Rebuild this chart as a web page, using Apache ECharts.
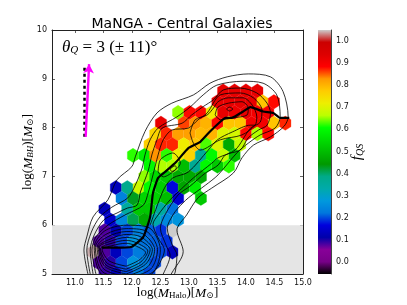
<!DOCTYPE html>
<html><head><meta charset="utf-8"><style>html,body{margin:0;padding:0;background:#fff}#c{width:407px;height:305px}</style>
<script src="https://cdn.jsdelivr.net/npm/echarts@6/dist/echarts.min.js"></script></head><body><div id="c"></div>
<script>
const xTicks=[11,11.5,12,12.5,13,13.5,14,14.5,15];
const yTicks=[5,6,7,8,9,10];
const cbTicks=[0,0.1,0.2,0.3,0.4,0.5,0.6,0.7,0.8,0.9,1];
const hexRows=[
[8.75,[13.60,.92,13.80,.92,14.00,.92,14.20,.92]],
[8.53,[13.50,.92,13.70,.92,13.90,.92,14.10,.92,14.29,.78,14.49,.88]],
[8.31,[12.81,.65,13.01,.88,13.21,.88,13.40,.72,13.60,.92,13.80,.91,14.00,.92,14.20,.90,14.39,.90]],
[8.09,[12.51,.92,12.91,.86,13.11,.83,13.30,.80,13.50,.88,13.70,.78,13.90,.78,14.10,.90,14.29,.90,14.49,.78,14.69,.87]],
[7.87,[12.41,.76,12.61,.87,12.81,.82,13.01,.82,13.21,.79,13.40,.80,13.60,.70,13.80,.69,14.00,.88,14.20,.66,14.39,.88]],
[7.65,[12.31,.77,12.51,.87,12.71,.87,12.91,.72,13.11,.78,13.30,.63,13.50,.70,13.70,.47,13.90,.67]],
[7.43,[12.02,.62,12.22,.58,12.41,.83,12.61,.62,12.81,.72,13.01,.76,13.21,.36,13.40,.60,13.60,.67,13.80,.50]],
[7.21,[12.31,.60,12.51,.66,12.71,.66,12.91,.50,13.11,.37,13.30,.60,13.50,.52,13.70,.62]],
[6.99,[12.22,.65,12.41,.55,12.61,.52,12.81,.47,13.01,.47,13.21,.47]],
[6.77,[11.72,.13,11.92,.38,12.12,.68,12.31,.60,12.51,.53,12.71,.17,12.91,.46,13.11,.58]],
[6.55,[11.82,.24,12.02,.43,12.22,.54,12.41,.53,12.61,.50,12.81,.15,13.21,.52]],
[6.33,[11.52,.13,11.92,.35,12.12,.52,12.31,.52,12.51,.35,12.71,.22]],
[6.11,[11.62,.15,11.82,.25,12.02,.41,12.22,.47,12.41,.33,12.61,.25,12.81,.27]],
[5.89,[11.52,.08,11.72,.12,11.92,.20,12.12,.24,12.31,.21,12.51,.19,12.71,1.2]],
[5.67,[11.42,.08,11.62,.095,11.82,.20,12.02,.27,12.22,.22,12.41,.21,12.61,.19]],
[5.45,[11.32,1.04,11.52,.08,11.72,.13,11.92,.20,12.12,.23,12.31,.22,12.51,.20,12.71,.13]],
[5.23,[11.42,.08,11.62,.095,11.82,.20,12.02,.27,12.22,.23,12.41,.20]],
[5.01,[11.52,.09,11.72,.13,11.92,.20,12.12,.23,12.31,.20]]
];
const contour1=[[11.23,5.0],[11.16,5.49],[11.21,5.76],[11.32,6.17],[11.58,6.52],[11.74,6.93],[12.0,7.2],[12.06,7.40],[12.23,7.92],[12.44,8.30],[12.70,8.50],[13.08,8.67],[13.37,8.91],[13.67,9.04],[14.04,9.10],[14.43,9.04],[14.65,8.74],[14.74,8.22],[14.67,8.03],[14.43,7.81],[14.13,7.64],[13.93,7.38],[13.78,7.07],[13.40,6.76],[13.16,6.56],[12.96,6.21],[12.79,5.90],[12.90,5.46],[12.70,5.02],[12.66,4.95]];
const contour2=[[11.27,5.0],[11.21,5.49],[11.29,5.86],[11.44,6.17],[11.65,6.37],[11.93,6.56],[12.06,6.82],[12.18,7.17],[12.23,7.44],[12.32,7.75],[12.46,7.99],[12.79,8.22],[13.02,8.42],[13.25,8.67],[13.49,8.87],[13.95,8.95],[14.30,8.91],[14.54,8.67],[14.60,8.22],[14.51,7.99],[14.25,7.85],[14.04,7.68],[13.84,7.48],[13.51,7.03],[13.29,6.82],[12.99,6.56],[12.81,6.35],[12.72,6.21],[12.62,5.94],[12.71,5.59],[12.79,5.39],[12.76,5.04],[12.72,4.95]];
const contour3=[[11.32,5.0],[11.27,5.49],[11.34,5.80],[11.51,6.11],[11.74,6.25],[11.92,6.35],[12.09,6.41],[12.15,6.68],[12.29,7.13],[12.35,7.44],[12.44,7.75],[12.53,7.99],[12.88,8.09],[13.05,8.26],[13.25,8.43],[13.43,8.57],[13.60,8.77],[13.90,8.81],[14.19,8.71],[14.37,8.50],[14.43,8.30],[14.37,8.05],[14.22,7.95],[14.04,7.79],[13.90,7.54],[13.64,7.44],[13.51,7.23],[13.29,7.07],[13.02,6.80],[12.81,6.62],[12.58,6.21],[12.50,5.94],[12.60,5.59],[12.67,5.39],[12.55,5.0],[12.5,4.95]];
const contour4=[[11.37,5.0],[11.30,5.49],[11.37,5.76],[11.58,6.0],[11.88,6.21],[12.20,6.41],[12.29,6.68],[12.37,7.03],[12.46,7.44],[12.55,7.75],[12.70,7.95],[12.99,7.99],[13.16,8.16],[13.32,8.30],[13.55,8.67],[13.90,8.71],[14.13,8.61],[14.28,8.36],[14.25,8.11],[14.08,7.99],[13.81,7.54],[13.51,7.38],[13.40,7.27],[13.08,6.97],[12.81,6.68],[12.67,6.52],[12.46,6.21],[12.37,6.02],[12.46,5.74],[12.57,5.49],[12.46,5.16],[12.32,4.96]];
const contour5=[[13.02,7.89],[13.11,8.16],[13.32,8.26],[13.43,8.40],[13.51,8.53],[13.69,8.61],[13.95,8.61],[14.11,8.46],[14.19,8.22],[14.16,8.05],[13.93,7.85],[13.55,7.75],[13.20,7.54],[13.08,7.68],[13.02,7.89]];
const contour6=[[13.46,8.26],[13.51,8.42],[13.69,8.50],[13.93,8.53],[14.04,8.40],[14.02,8.26],[13.78,8.20],[13.55,8.16],[13.46,8.26]];
const contour7=[[13.66,8.38],[13.71,8.42],[13.77,8.38],[13.71,8.34],[13.66,8.38]];
const contour8=[[12.46,7.09],[12.50,7.34],[12.72,7.48],[12.85,7.27],[12.76,7.13],[12.55,6.99],[12.46,7.09]];
const contour9=[[12.32,6.0],[12.46,6.45],[12.58,6.78],[12.72,6.97],[12.99,7.09],[13.34,7.54],[13.50,7.75],[13.76,7.91],[14.08,8.05],[14.16,8.05]];
const contour10=[[12.67,7.15],[12.76,7.22],[12.78,7.17],[12.70,7.10],[12.67,7.15]];
const loop1=[[11.9,4.85],[11.46,5.0],[11.34,5.55],[11.52,5.88],[11.9,6.0],[12.3,5.95],[12.5,5.5],[12.38,5.05],[11.9,4.85]];
const loop2=[[11.9,4.9],[11.48,5.05],[11.36,5.55],[11.54,5.81],[11.9,5.93],[12.25,5.88],[12.45,5.5],[12.33,5.1],[11.9,4.9]];
const loop3=[[11.9,4.95],[11.51,5.1],[11.39,5.55],[11.57,5.76],[11.9,5.87],[12.2,5.82],[12.4,5.5],[12.28,5.15],[11.9,4.95]];
const loop4=[[11.9,5.0],[11.53,5.15],[11.41,5.55],[11.59,5.70],[11.9,5.81],[12.16,5.76],[12.36,5.5],[12.24,5.2],[11.9,5.0]];
const loop5=[[11.9,5.05],[11.55,5.18],[11.43,5.55],[11.6,5.66],[11.9,5.75],[12.12,5.7],[12.32,5.5],[12.2,5.22],[11.9,5.05]];
const loop6=[[11.9,5.1],[11.57,5.22],[11.45,5.52],[11.62,5.62],[11.9,5.69],[12.08,5.64],[12.28,5.47],[12.16,5.25],[11.9,5.1]];
const loop7=[[11.9,5.16],[11.6,5.27],[11.48,5.5],[11.65,5.58],[11.9,5.63],[12.06,5.58],[12.24,5.44],[12.12,5.28],[11.9,5.16]];
const medianLine=[[11.47,5.54],[11.71,5.54],[12.0,5.56],[12.20,5.76],[12.32,6.17],[12.37,6.66],[12.46,6.97],[12.58,7.09],[12.78,7.30],[12.99,7.58],[13.20,7.71],[13.37,7.92],[13.55,8.12],[13.64,8.20],[13.75,8.20],[13.95,8.33],[14.08,8.42],[14.30,8.33],[14.48,8.30],[14.60,8.20],[14.76,8.20]];
const dashedVec=[[11.17,7.81],[11.17,9.28]];
const arrowVec=[[11.19,7.81],[11.25,9.30]];
const band=[[10.6,15,5,6]];
const cbRange=[[-0.053,1.048]];
const palette=['#000000','#770088','#880099','#0000aa','#0000dd','#0077dd','#0099dd','#00aaaa','#00aa88','#009900','#00bb00','#00dd00','#00ff00','#bbff00','#eeee00','#ffcc00','#ff9900','#ff0000','#dd0000','#cc0000','#cccccc'];

const hexData=[];
hexRows.forEach(function(r){for(let i=0;i<r[1].length;i+=2)hexData.push([r[1][i],r[0],r[1][i+1]]);});
const DX=0.198,DY=0.22;
const contours=[contour1,contour2,contour3,contour4,contour5,contour6,contour7,contour8,contour9,contour10,loop1,loop2,loop3,loop4,loop5,loop6,loop7];
const thin=contours.map(function(d){return {type:'line',data:d,smooth:0.3,symbol:'none',silent:true,z:4,clip:true,lineStyle:{color:'#000',width:0.8}};});
const serif='"Liberation Serif","DejaVu Serif",serif';
const r={
 n:{fontFamily:serif,fontSize:13,color:'#000'},
 i:{fontFamily:serif,fontSize:13.5,fontStyle:'italic',color:'#000'},
 s:{fontFamily:serif,fontSize:9,fontStyle:'italic',color:'#000',verticalAlign:'bottom',padding:[5,0,0,0]},
 t:{fontFamily:serif,fontSize:9,color:'#000',verticalAlign:'bottom',padding:[5,0,0,0]}
};
const axisCommon={axisLine:{show:true,onZero:false,lineStyle:{color:'#222',width:1}},splitLine:{show:false}};
const tickStyle={inside:true,length:3,lineStyle:{color:'#222',width:0.7}};
const lab={fontFamily:'"DejaVu Sans"',fontSize:8,color:'#111',margin:5};
const chart=echarts.init(document.getElementById('c'),null,{renderer:'canvas'});
chart.setOption({
 animation:false,
 backgroundColor:'#fff',
 title:{text:'MaNGA - Central Galaxies',left:177,top:12,textAlign:'center',textStyle:{fontFamily:'"DejaVu Sans"',fontSize:14,fontWeight:'normal',color:'#000'}},
 grid:[{left:52,right:104,top:30,bottom:31,outerBoundsMode:'none'},{left:318,width:13,top:30,bottom:31,outerBoundsMode:'none'}],
 xAxis:[
  Object.assign({type:'value',gridIndex:0,min:10.6,max:15,position:'bottom',axisLabel:Object.assign({},lab,{customValues:xTicks,formatter:function(v){return v.toFixed(1);}}),axisTick:Object.assign({},tickStyle,{customValues:xTicks}),
   name:'{n|log(}{i|M}{t|Halo}{n|)[}{i|M}{t|⊙}{n|]}',nameLocation:'middle',nameGap:12,nameMoveOverlap:false,nameTextStyle:{rich:r}},axisCommon),
  Object.assign({type:'value',gridIndex:0,min:10.6,max:15,position:'top',axisLabel:{show:false},axisTick:Object.assign({},tickStyle,{customValues:xTicks})},axisCommon),
  {type:'value',gridIndex:1,min:0,max:1,show:false}
 ],
 yAxis:[
  Object.assign({type:'value',gridIndex:0,min:5,max:10,position:'left',axisLabel:Object.assign({},lab,{customValues:yTicks}),axisTick:Object.assign({},tickStyle,{customValues:yTicks}),
   name:'{n|log(}{i|M}{s|BH}{n|)[}{i|M}{t|⊙}{n|]}',nameLocation:'middle',nameGap:17,nameMoveOverlap:false,nameTextStyle:{rich:r}},axisCommon),
  Object.assign({type:'value',gridIndex:0,min:5,max:10,position:'right',axisLabel:{show:false},axisTick:Object.assign({},tickStyle,{customValues:yTicks})},axisCommon),
  Object.assign({type:'value',gridIndex:1,min:-0.053,max:1.048,position:'right',axisLabel:Object.assign({},lab,{customValues:cbTicks,formatter:function(v){return v.toFixed(1);}}),axisTick:Object.assign({},tickStyle,{customValues:cbTicks}),
   name:'{i|f}{s|QS}',nameLocation:'middle',nameGap:19,nameRotate:90,nameMoveOverlap:false,nameTextStyle:{rich:{i:{fontFamily:serif,fontSize:15,fontStyle:'italic',color:'#000'},s:{fontFamily:serif,fontSize:10,fontStyle:'italic',color:'#000',verticalAlign:'bottom',padding:[5,0,0,0]}}}},{axisLine:{show:true,onZero:false,lineStyle:{color:'#444',width:1}},splitLine:{show:false}})
 ],
 visualMap:{show:false,seriesIndex:1,dimension:2,min:-0.053,max:1.048,inRange:{color:palette},outOfRange:{color:'#f6f6f6'}},
 graphic:[{type:'text',left:62,top:39,z:10,style:{rich:{i:{fontFamily:serif,fontSize:17,fontStyle:'italic',fill:'#000'},s:{fontFamily:serif,fontSize:11,fontStyle:'italic',fill:'#000',verticalAlign:'bottom',padding:[6,0,0,0]},n:{fontFamily:serif,fontSize:17,fill:'#000'}},text:'{i|θ}{s|Q}{n| = 3 (± 11)°}'}}],
 series:[
  {type:'custom',data:band,silent:true,z:1,clip:true,renderItem:function(p,api){const a=api.coord([api.value(0),api.value(3)]);const b=api.coord([api.value(1),api.value(2)]);return {type:'rect',shape:{x:a[0],y:a[1],width:b[0]-a[0],height:b[1]-a[1]},style:{fill:'#e5e5e5'}};}},
  {type:'custom',data:hexData,silent:true,z:2,clip:true,encode:{x:0,y:1},renderItem:function(p,api){const c=api.coord([api.value(0),api.value(1)]);const s=api.size([DX,DY]);const w=s[0]/2,h=s[1]/3;const pts=[[c[0],c[1]-2*h],[c[0]+w,c[1]-h],[c[0]+w,c[1]+h],[c[0],c[1]+2*h],[c[0]-w,c[1]+h],[c[0]-w,c[1]-h]];
    return {type:'polygon',shape:{points:pts},style:{fill:api.visual('color'),stroke:api.visual('color'),lineWidth:0.3}};}},
  {type:'custom',xAxisIndex:2,yAxisIndex:2,data:cbRange,silent:true,z:2,renderItem:function(p,api){const a=api.coord([0,api.value(1)]);const b=api.coord([1,api.value(0)]);return {type:'rect',shape:{x:a[0],y:a[1],width:b[0]-a[0],height:b[1]-a[1]},style:{fill:new echarts.graphic.LinearGradient(0,1,0,0,palette.map(function(col,i){return {offset:i/(palette.length-1),color:col};}))}};}},
 ].concat(thin).concat([
  {type:'line',data:medianLine,smooth:0.15,symbol:'none',silent:true,z:5,lineStyle:{color:'#000',width:2.2}},
  {type:'line',data:dashedVec,symbol:'none',silent:true,z:5,lineStyle:{color:'#000',width:2.5,type:[3,3]}},
  {type:'line',data:[],silent:true,markLine:{silent:true,z:6,animation:false,label:{show:false},symbol:['none','arrow'],symbolSize:[8,9],lineStyle:{color:'#ff00ff',width:2.4,type:'solid'},data:[[{coord:arrowVec[0]},{coord:arrowVec[1]}]]}}
 ])
});
</script></body></html>
